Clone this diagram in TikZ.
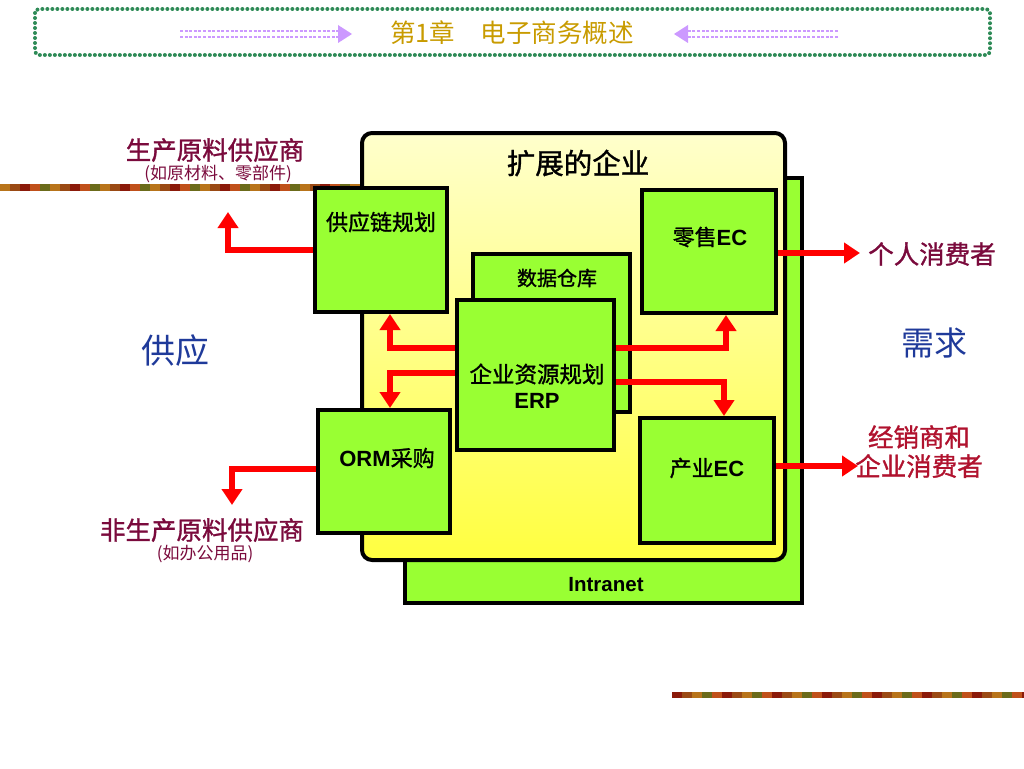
\documentclass[tikz,border=0pt]{standalone}
\usepackage{fontspec}
\setmainfont{Liberation Sans}
\newfontfamily\cjk{Noto Sans CJK SC}
\newfontfamily\cjkb{Noto Sans CJK SC}[FakeBold=1.2]
\usetikzlibrary{arrows.meta,positioning,calc}

\definecolor{boxgreen}{HTML}{99FF33}
\definecolor{paleyel}{HTML}{FFFFCC}
\definecolor{deepyel}{HTML}{FFFF40}
\definecolor{plum}{HTML}{7A0A3C}
\definecolor{crimson}{HTML}{B0122E}
\definecolor{navyblue}{HTML}{1F3A9A}
\definecolor{titlegold}{HTML}{C89B00}
\definecolor{framegreen}{HTML}{2E8B57}
\definecolor{lilac}{HTML}{CC99FF}
\definecolor{arrowred}{HTML}{FF0000}
\definecolor{st0}{HTML}{B8741A}
\definecolor{st1}{HTML}{8B1A0A}
\definecolor{st2}{HTML}{6B6B1A}
\definecolor{st3}{HTML}{9A4A14}
\definecolor{st4}{HTML}{C0501A}

\newcommand\fsz[1]{\fontsize{#1}{#1}\selectfont}

\begin{document}
\begin{tikzpicture}[x=1pt,y=-1pt,
  greenbox/.style={draw=black,line width=4pt,fill=boxgreen,inner sep=0pt},
  boxtext/.style={font=\cjkb\fsz{22},text=black,inner sep=0pt},
  sidelabel/.style={font=\cjkb\fsz{25.5},inner sep=0pt},
  notelabel/.style={font=\cjk\fsz{17},text=plum,inner sep=0pt},
  redarrow/.style={draw=arrowred,line width=6pt,-{Triangle[length=16pt,width=20pt]}},
  lilacarrow/.style={lilac,line width=2pt,dash pattern=on 3pt off 1.6pt}]
  \useasboundingbox (0,0) rectangle (1024,768);
  % title frame
  \draw[framegreen,line width=4pt,dash pattern=on 0pt off 5pt,line cap=round,rounded corners=4pt]
    (35,9) rectangle (990,55);
  \node[font=\cjk\fsz{25.5},text=titlegold,inner sep=0pt] (title) at (512,33) {第1章\hspace{1em}电子商务概述};
  \foreach \yy in {31,37}{
    \draw[lilacarrow] (180,\yy) -- (340,\yy);
    \draw[lilacarrow] (838,\yy) -- (686,\yy);
  }
  \fill[lilac] (338,25) -- (352,34) -- (338,43) -- cycle;
  \fill[lilac] (688,25) -- (674,34) -- (688,43) -- cycle;
  % stripes
  \foreach \i in {0,...,36}{
    \pgfmathtruncatemacro\k{mod(\i*3,5)}
    \fill[st\k] (\i*10,184) rectangle (\i*10+10,191);
  }
  \foreach \i in {0,...,35}{
    \pgfmathtruncatemacro\k{mod(\i*2+1,5)}
    \fill[st\k] (672+\i*10,692) rectangle (682+\i*10,698);
  }
  % back and front frames
  \node[greenbox,minimum width=397pt,minimum height=425pt] (intranet) at (603.5,390.5) {};
  \node[font=\bfseries\fsz{20.5},inner sep=0pt] (intranettext) at (606,585) {Intranet};
  \node[draw=black,line width=4pt,rounded corners=10pt,top color=paleyel,bottom color=deepyel,
    minimum width=423pt,minimum height=427pt,inner sep=0pt] (ent) at (573.5,346.5) {};
  \node[font=\cjkb\fsz{28.5},inner sep=0pt] (enttext) at (578,163) {扩展的企业};
  % inner boxes
  \node[greenbox,minimum width=132pt,minimum height=124pt] (scm) at (381,250) {};
  \node[boxtext] (scmtext) at (381,222) {供应链规划};
  \node[greenbox,minimum width=134pt,minimum height=123pt] (retail) at (709,251.5) {};
  \node[boxtext] (retailtext) at (710,237) {零售{\rmfamily\bfseries EC}};
  \node[greenbox,minimum width=157pt,minimum height=158pt] (dw) at (551.5,333) {};
  \node[boxtext,font=\cjkb\fsz{20}] (dwtext) at (557,278) {数据仓库};
  \node[greenbox,minimum width=157pt,minimum height=150pt] (erp) at (535.5,375) {};
  \node[boxtext,font=\cjkb\fsz{22.5}] (erptext) at (537,374) {企业资源规划};
  \node[font=\bfseries\fsz{22},inner sep=0pt] (erpabbr) at (537,401) {ERP};
  \node[greenbox,minimum width=132pt,minimum height=123pt] (orm) at (384,471.5) {};
  \node[boxtext] (ormtext) at (387,458) {{\rmfamily\bfseries ORM}采购};
  \node[greenbox,minimum width=134pt,minimum height=125pt] (ind) at (707,480.5) {};
  \node[boxtext] (indtext) at (707,468) {产业{\rmfamily\bfseries EC}};
  % side labels
  \node[sidelabel,text=plum] (rawsup) at (215,150) {生产原料供应商};
  \node[notelabel] (rawnote) at (218,174) {(如原材料、零部件)};
  \node[font=\cjk\fsz{34},text=navyblue,inner sep=0pt] (supply) at (175,351) {供应};
  \node[font=\cjk\fsz{33},text=navyblue,inner sep=0pt] (demand) at (934,343) {需求};
  \node[sidelabel,text=plum] (nonraw) at (202,530) {非生产原料供应商};
  \node[notelabel] (nonnote) at (205,554) {(如办公用品)};
  \node[sidelabel,text=plum] (person) at (932,254) {个人消费者};
  \node[sidelabel,text=crimson] (dealer) at (919,437) {经销商和};
  \node[sidelabel,text=crimson] (biz) at (919,466) {企业消费者};
  % arrow ends
  \coordinate (rawtip) at (228,212);
  \coordinate (nonrawtip) at (232,505);
  \coordinate (persontip) at (860,253);
  \coordinate (biztip) at (858,466);
  % connectors
  \draw[redarrow] (scm.west) -| (rawtip);
  \draw[redarrow] (orm.west |- 0,469) -| (nonrawtip);
  \draw[redarrow] (erp.west |- 0,348) -| (scm.south -| 390,0);
  \draw[redarrow] (erp.west |- 0,373) -| (orm.north -| 390,0);
  \draw[redarrow] (erp.east |- 0,348) -| (retail.south -| 726,0);
  \draw[redarrow] (erp.east |- 0,382) -| (ind.north -| 724,0);
  \draw[redarrow] (retail.east |- 0,253) -- (persontip);
  \draw[redarrow] (ind.east |- 0,466) -- (biztip);
\end{tikzpicture}
\end{document}
